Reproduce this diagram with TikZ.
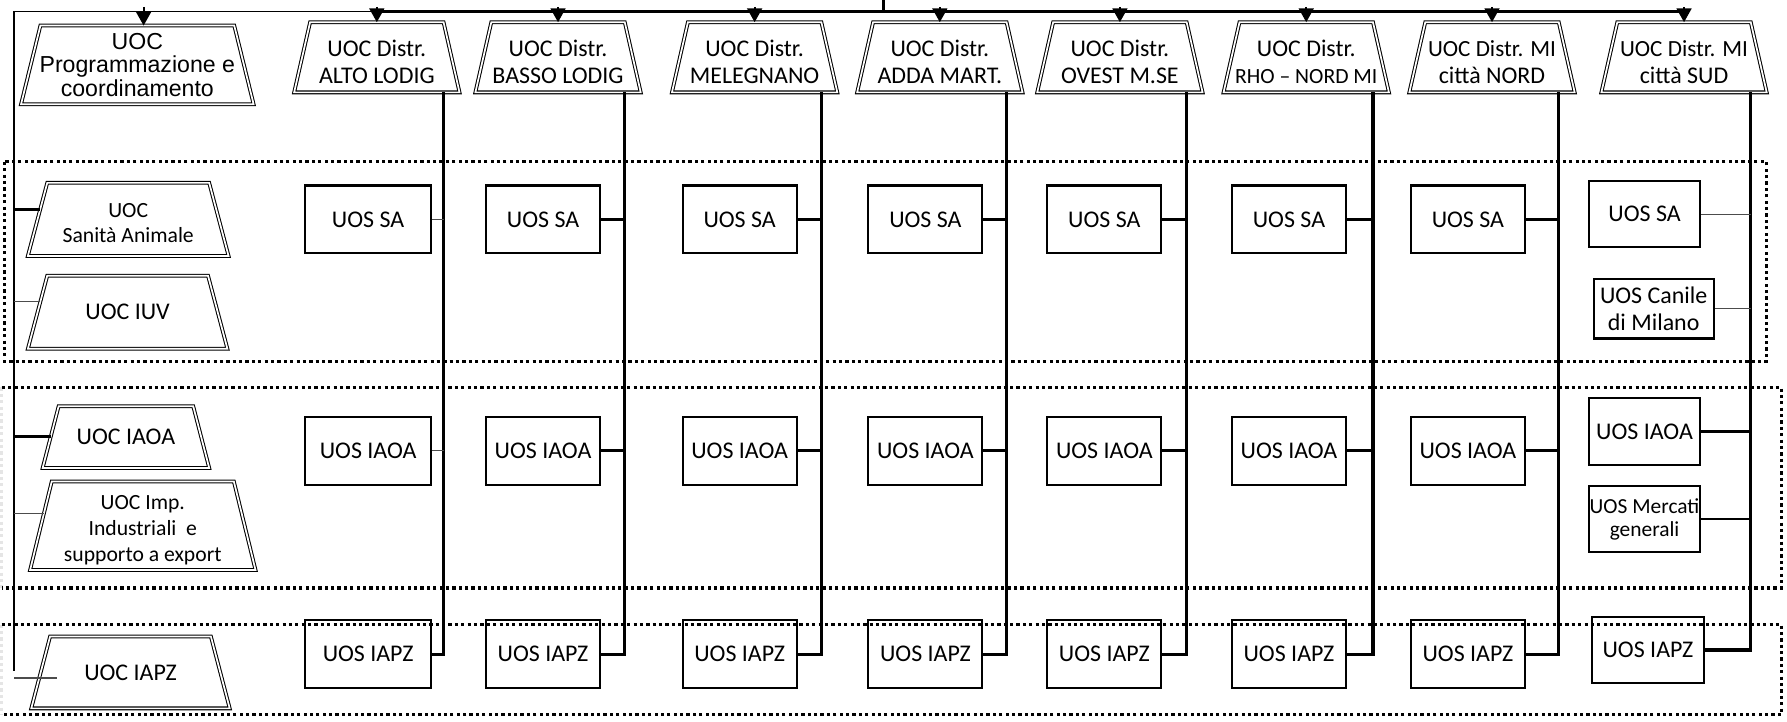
\documentclass[tikz,border=0pt]{standalone}
\usepackage{fontspec}
\setmainfont{Carlito}
\newfontfamily\arialfont{Liberation Sans}
\usetikzlibrary{arrows.meta, positioning, calc}
\tikzset{
    uocbox/.style={
        rectangle,
        align=center,
        inner sep=0pt,
        font=\fontsize{21}{23.5}\selectfont
    },
    distrbox/.style={
        uocbox,
        minimum width=144.7pt,
        minimum height=61.2pt
    },
    uosbox/.style={
        rectangle,
        draw=black,
        line width=1.8pt,
        align=center,
        inner sep=0pt,
        minimum height=59.5pt,
        font=\fontsize{21}{23.5}\selectfont
    },
    trapline/.style={draw=black, line width=0.9pt, double=white, double distance=1.5pt},
    thicklink/.style={draw=black, line width=2.2pt},
    thinlink/.style={draw=black!70, line width=1.1pt},
    colline/.style={draw=black, line width=2.7pt},
    bandline/.style={draw=black, line width=2.8pt, dash pattern=on 2.8pt off 2.8pt},
    faintband/.style={draw=black!10, line width=2.8pt, dash pattern=on 2.8pt off 2.8pt},
    downarrow/.style={-{Triangle[length=12pt,width=13pt]}, line width=1.6pt}
}

\begin{document}
\begin{tikzpicture}[x=1pt,y=-1pt]
    \useasboundingbox (0,0) rectangle (1568,633);

    % fasce tratteggiate
    \draw[bandline] (4,142) rectangle (1550,317);
    \draw[faintband] (1.5,340) -- (1.5,516);
    \draw[bandline] (1.5,340) -- (1563,340) -- (1563,516) -- (1.5,516);
    \draw[faintband] (1.5,548) -- (1.5,627);
    \draw[bandline] (1.5,548) -- (1563,548) -- (1563,627) -- (1.5,627);

    % colonna di sinistra
    \node[uocbox, minimum width=203.7pt, minimum height=68.7pt, font=\arialfont\fontsize{20.3}{20.5}\selectfont] (prog) at (120.5,57) {UOC\\Programmazione e\\coordinamento};
    \node[uocbox, minimum width=175.7pt, minimum height=63.7pt, font=\fontsize{19}{21.5}\selectfont] (uocsa) at (112.5,192.5) {\rule{0pt}{19pt}UOC\\Sanità Animale};
    \node[uocbox, minimum width=174.7pt, minimum height=63.7pt] (uociuv) at (112,274) {UOC IUV};
    \node[uocbox, minimum width=145.7pt, minimum height=53.7pt] (uociaoa) at (110.5,383.5) {UOC IAOA};
    \node[uocbox, minimum width=197.4pt, minimum height=77.3pt, font=\fontsize{19}{22.5}\selectfont] (uocimp) at (125.3,461.3) {\rule{0pt}{20pt}UOC Imp.\\Industriali~ e\\supporto a export};
    \node[uocbox, minimum width=173.7pt, minimum height=62.7pt] (uociapz) at (114.5,590) {UOC IAPZ};

    % distretti
    \foreach \i/\cx/\txt in {1/330.65/{UOC Distr.\\ALTO LODIG}, 2/489.65/{UOC Distr.\\BASSO LODIG}, 3/662.15/{UOC Distr.\\MELEGNANO}, 4/824.65/{UOC Distr.\\ADDA MART.}, 5/982.65/{UOC Distr.\\OVEST M.SE}, 6/1146.15/{UOC Distr.\\\fontsize{19}{23.5}\selectfont RHO – NORD MI}, 7/1309.15/{\fontsize{20.3}{23.5}\selectfont UOC Distr. MI\\città NORD}, 8/1477.65/{\fontsize{20.3}{23.5}\selectfont UOC Distr. MI\\città SUD}} {
        \node[distrbox] (d\i) at (\cx,50.25) {\rule{0pt}{22pt}\txt};
        \coordinate (tr\i) at ($(d\i.south east)+(-14,0)$);
    }

    % contorni a trapezio
    \foreach \n/\s in {prog/17, uocsa/17, uociuv/17, uociaoa/14, uocimp/19, uociapz/16.5, d1/14, d2/14, d3/14, d4/14, d5/14, d6/14, d7/14, d8/14} {
        \draw[trapline] ($(\n.north west)+(\s,0)$) -- ($(\n.north east)+(-\s,0)$) -- (\n.south east) -- (\n.south west) -- cycle;
    }

    % unita semplici
    \foreach \i/\bx/\bw in {1/323/110, 2/476.5/100, 3/649/100, 4/812/100, 5/969/100, 6/1131/100, 7/1288/100} {
        \node[uosbox, minimum width=\bw pt] (sa\i) at (\bx,192.5) {UOS SA};
        \node[uosbox, minimum width=\bw pt] (ia\i) at (\bx,395.5) {UOS IAOA};
        \node[uosbox, minimum width=\bw pt] (pz\i) at (\bx,574) {UOS IAPZ};
    }
    \node[uosbox, minimum width=98pt, minimum height=58pt] (sa8) at (1443,188) {UOS SA};
    \node[uosbox, minimum width=105.5pt, minimum height=52pt] (can8) at (1451,271) {UOS Canile\\di Milano};
    \node[uosbox, minimum width=98pt, minimum height=58.5pt] (ia8) at (1443,378.8) {UOS IAOA};
    \node[uosbox, minimum width=98pt, minimum height=58pt, font=\fontsize{18.8}{20}\selectfont] (mg8) at (1443,455.5) {UOS Mercati\\generali};
    \node[uosbox, minimum width=98pt, minimum height=58pt] (pz8) at (1446,570.3) {UOS IAPZ};

    % linea superiore
    \coordinate (lefttop) at (12.4,10);
    \coordinate (arrowtop) at (0,6);
    \coordinate (hub) at (775,0);
    \draw[line width=1.2pt] (lefttop) -- (lefttop -| d1.north);
    \draw[line width=2.4pt] (lefttop -| d1.north) -- (lefttop -| d8.north);
    \draw[line width=2.4pt] (hub) -- (hub |- lefttop);
    \draw[downarrow] ($(arrowtop -| prog.north)+(5.5,0)$) -- ($(prog.north)+(5.5,0)$);
    \foreach \i in {1,...,8} {
        \draw[downarrow] (arrowtop -| d\i.north) -- (d\i.north);
    }

    % collegamenti a sinistra
    \draw[line width=1.6pt] (lefttop) -- ($(lefttop |- uociapz.west)+(0,-1)$);
    \foreach \n/\dx/\dy/\lk in {uocsa/10.8/8.5/thicklink, uociuv/10.6/9.5/thinlink, uociaoa/7/0.5/thicklink, uocimp/12.2/11/thinlink, uociapz/22.4/-5/thinlink} {
        \coordinate (lk) at ($(\n.west)+(\dx,-\dy)$);
        \draw[\lk] (lefttop |- lk) -- (lk);
    }

    % collegamenti dei distretti
    \foreach \i/\salk/\ialk in {1/thinlink/thinlink, 2/thicklink/thicklink, 3/thicklink/thicklink, 4/thicklink/thicklink, 5/thicklink/thicklink, 6/thicklink/thicklink, 7/thicklink/thicklink, 8/thinlink/thicklink} {
        \draw[colline] (tr\i) -- (tr\i |- pz\i.east) -- (pz\i.east);
        \draw[\salk] (sa\i.east) -- (sa\i.east -| tr\i);
        \draw[\ialk] (ia\i.east) -- (ia\i.east -| tr\i);
    }
    \draw[thinlink] (can8.east) -- (can8.east -| tr8);
    \draw[thicklink] (mg8.east) -- (mg8.east -| tr8);
\end{tikzpicture}
\end{document}
